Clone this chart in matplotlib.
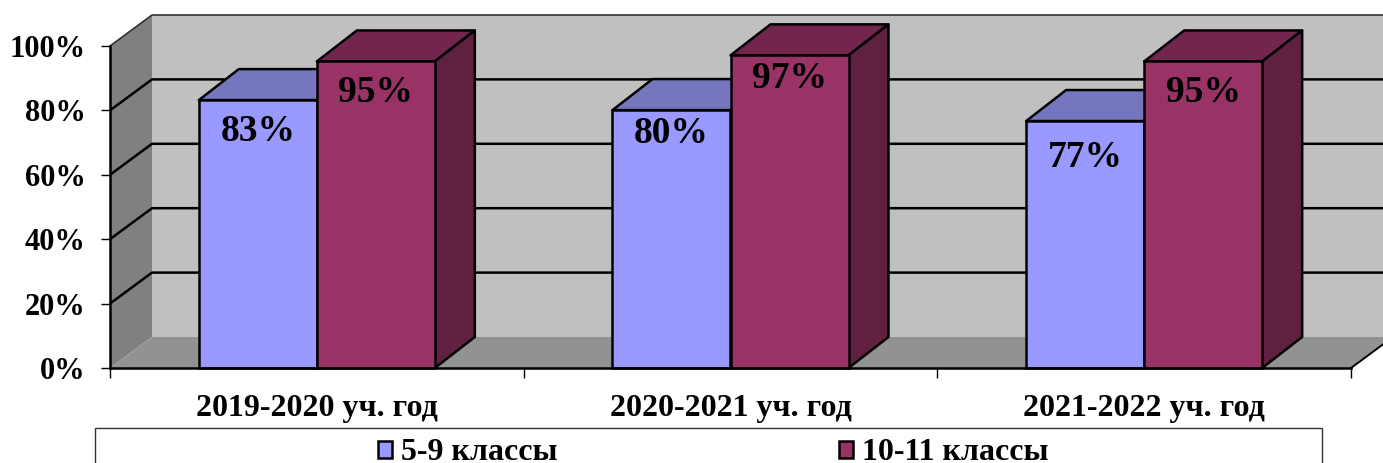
import matplotlib
matplotlib.use("Agg")
import matplotlib.pyplot as plt
from matplotlib.patches import Polygon, Rectangle, Patch

categories = ["2019-2020 уч. год", "2020-2021 уч. год", "2021-2022 уч. год"]
series_names = ["5-9 классы", "10-11 классы"]
values_5_9 = [83.2, 80.1, 76.7]
values_10_11 = [95.2, 97.1, 95.2]
y_ticks = [0, 20, 40, 60, 80, 100]

W, H = 1383, 463
LEFT, RIGHT, BOTTOM, TOP = 110, 1351, 368, 46
plt.rcParams["font.family"] = ["Liberation Serif", "DejaVu Serif"]
plt.rcParams["font.weight"] = "bold"

fig = plt.figure(figsize=(W / 100, H / 100), dpi=100, facecolor="white")
ax = fig.add_axes([LEFT / W, (H - BOTTOM) / H, (RIGHT - LEFT) / W, (BOTTOM - TOP) / H])
ax.set_xlim(0, 3)
ax.set_ylim(0, 100)
ax.patch.set_visible(False)

px_x = 3 / (RIGHT - LEFT)
px_y = 100 / (BOTTOM - TOP)
WALL_DX, WALL_DY = 42 * px_x, 31 * px_y
BAR_DX, BAR_DY = 40 * px_x, 31 * px_y
BAR_W = 118 * px_x
LW = 1.8

def poly(pts, fc, z, ec="none", lw=0):
    ax.add_patch(Polygon(pts, closed=True, facecolor=fc, edgecolor=ec, linewidth=lw,
                         zorder=z, clip_on=False, joinstyle="round"))

# walls and floor
xmax = 3 + WALL_DX
poly([(WALL_DX, WALL_DY), (xmax, WALL_DY), (xmax, 100 + WALL_DY), (WALL_DX, 100 + WALL_DY)], "#C0C0C0", 1)
poly([(0, 0), (WALL_DX, WALL_DY), (WALL_DX, 100 + WALL_DY), (0, 100)], "#808080", 1)
poly([(0, 0), (3, 0), (xmax, WALL_DY), (WALL_DX, WALL_DY)], "#929292", 1)

# gridlines
for t in y_ticks[1:]:
    ax.plot([0, WALL_DX, xmax], [t, t + WALL_DY, t + WALL_DY],
            color="black" if t < 100 else "#333333",
            lw=LW if t < 100 else 1.2, zorder=2, clip_on=False, solid_capstyle="butt")
ax.plot([3, xmax], [0, WALL_DY], color="black", lw=1.4, zorder=2, clip_on=False)

# bars
def bar3d(x0, v, front, top, side, z):
    ax.bar(x0, v, width=BAR_W, align="edge", color=front, edgecolor="black",
           linewidth=LW, zorder=z + 0.2, clip_on=False)
    x1 = x0 + BAR_W
    poly([(x0, v), (x1, v), (x1 + BAR_DX, v + BAR_DY), (x0 + BAR_DX, v + BAR_DY)], top, z, "black", LW)
    poly([(x1, 0), (x1 + BAR_DX, BAR_DY), (x1 + BAR_DX, v + BAR_DY), (x1, v)], side, z, "black", LW)

label_drop = [[9.8, 7.2, 11.2], [9.6, 7.3, 9.6]]
for i in range(len(categories)):
    z = 3 + i
    bar3d(i + 0.5 - BAR_W, values_5_9[i], "#9999FF", "#7676BF", "#5F5F9F", z)
    bar3d(i + 0.5, values_10_11[i], "#993366", "#73264D", "#602040", z + 0.5)
    ax.text(i + 0.5 - BAR_W / 2, values_5_9[i] - label_drop[0][i], f"{values_5_9[i]:.0f}%",
            ha="center", va="center", fontsize=27, zorder=10, color="black")
    ax.text(i + 0.5 + BAR_W / 2, values_10_11[i] - label_drop[1][i], f"{values_10_11[i]:.0f}%",
            ha="center", va="center", fontsize=27, zorder=10, color="black")

# axes
for s in ("top", "right"):
    ax.spines[s].set_visible(False)
for s in ("left", "bottom"):
    ax.spines[s].set_linewidth(LW)
    ax.spines[s].set_zorder(9)
ax.set_yticks(y_ticks)
ax.set_yticklabels([f"{t}%" for t in y_ticks], fontsize=22)
ax.tick_params(axis="y", length=6.5, width=1, pad=11)
ax.set_xticks(range(4))
ax.set_xticklabels([])
ax.tick_params(axis="x", which="major", length=7, width=1)
ax.set_xticks([i + 0.5 for i in range(3)], minor=True)
ax.set_xticklabels(categories, minor=True, fontsize=23)
ax.tick_params(axis="x", which="minor", length=0, pad=19)

# legend
fig.add_artist(Rectangle((95 / W, -5 / H), 1227 / W, (H - 428 + 5) / H, transform=fig.transFigure,
                         facecolor="white", edgecolor="#333333", linewidth=1))
handles = [Patch(facecolor=c, edgecolor="black", linewidth=LW, label=n)
           for c, n in zip(["#9999FF", "#993366"], series_names)]
fig.legend(handles=handles, ncol=2, frameon=False, fontsize=23, loc="center",
           bbox_to_anchor=(713 / W, (H - 453) / H), handlelength=0.45, handleheight=0.45,
           handletextpad=0.28, columnspacing=8.8, borderpad=0, borderaxespad=0)

fig.savefig("out.png", dpi=100, facecolor="white")
